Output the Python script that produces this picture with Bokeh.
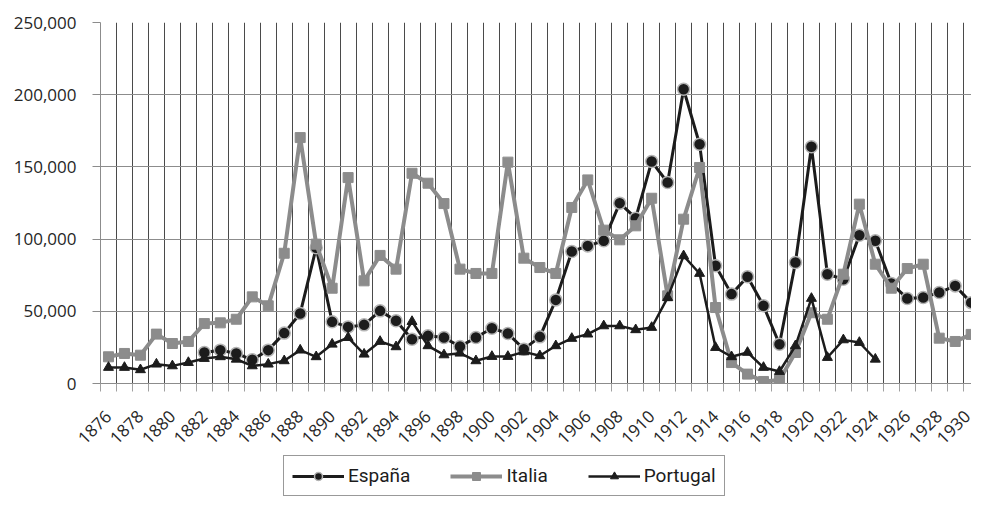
import math
from bokeh.plotting import figure
from bokeh.layouts import column
from bokeh.models import Range1d, FixedTicker, NumeralTickFormatter, Legend, LegendItem
from bokeh.embed import file_html
from bokeh.resources import INLINE

# ---------------- data ----------------
years = list(range(1876, 1931))
label_years = years[::2]

espana_years = list(range(1882, 1931))
espana = [21500, 23100, 20800, 16400, 23100, 34900, 48500, 94000, 42700, 39200,
          40600, 50300, 43400, 30700, 33000, 31800, 25600, 31800, 38300, 34600,
          23800, 32300, 57900, 91400, 95300, 98800, 124900, 114500, 153700, 139200,
          203800, 165700, 81500, 61900, 73900, 53800, 27200, 83800, 163900, 75700,
          72200, 102700, 98800, 69200, 58900, 59500, 63000, 67600, 56000]

italia_years = years
italia = [18500, 20800, 19600, 34200, 27700, 29100, 41500, 42000, 44500, 60000,
          53800, 90200, 170300, 96500, 66000, 142600, 71100, 88700, 79200, 145600,
          138700, 124600, 79200, 76200, 76200, 153300, 86800, 80300, 76200, 121900,
          141000, 106200, 99500, 109200, 128300, 60700, 113800, 149600, 52600, 14500,
          6500, 1400, 2500, 21500, 49000, 44500, 75700, 124200, 82600, 66000,
          79600, 82600, 31400, 29100, 34000]

portugal_years = list(range(1876, 1925))
portugal = [11100, 11100, 9500, 13400, 12200, 14500, 17300, 18500, 16800, 12200,
            13400, 15700, 23100, 18500, 27200, 31800, 20300, 29100, 25400, 42900,
            26100, 19800, 21000, 15700, 18700, 18700, 21900, 19200, 26100, 31200,
            34200, 39900, 39900, 37200, 38800, 59500, 88400, 76200, 24900, 18500,
            21500, 11100, 8300, 26100, 58900, 18000, 30200, 28400, 16800]

series_names = ["España", "Italia", "Portugal"]
y_ticks = [0, 50000, 100000, 150000, 200000, 250000]

# ---------------- styles ----------------
DARK = "#1c1c1c"
GREY = "#8c8c8c"
styles = {
    "España": dict(line=dict(line_color=DARK, line_width=3),
                   mark=dict(marker="circle", size=12, fill_color=DARK,
                             line_color="#b4b4b4", line_width=1.5)),
    "Italia": dict(line=dict(line_color=GREY, line_width=4),
                   mark=dict(marker="square", size=10, fill_color=GREY, line_color=GREY)),
    "Portugal": dict(line=dict(line_color=DARK, line_width=2.5),
                     mark=dict(marker="triangle", size=10, fill_color=DARK, line_color=DARK)),
}

# ---------------- main figure ----------------
p = figure(width=971, height=452, output_backend="svg", toolbar_location=None,
           x_range=Range1d(1875.5, 1930.02), y_range=Range1d(0, 250000),
           min_border_left=100, min_border_top=22, min_border_bottom=69,
           min_border_right=0)
p.outline_line_color = None
p.background_fill_color = "white"

boundaries = [y - 0.5 for y in years]

p.xaxis.ticker = FixedTicker(ticks=label_years, minor_ticks=boundaries)
p.xaxis.major_tick_line_color = None
p.xaxis.major_tick_out = 0
p.xaxis.major_tick_in = 0
p.xaxis.minor_tick_out = 8
p.xaxis.minor_tick_in = 0
p.xaxis.minor_tick_line_color = "#a0a0a0"
p.xaxis.major_label_orientation = math.pi / 4
p.xaxis.major_label_standoff = 22
p.xaxis.axis_line_color = GREY

p.yaxis.ticker = FixedTicker(ticks=y_ticks)
p.yaxis.formatter = NumeralTickFormatter(format="0,0")
p.yaxis.major_tick_out = 8
p.yaxis.major_tick_in = 0
p.yaxis.major_tick_line_color = GREY
p.yaxis.minor_tick_line_color = None
p.yaxis.axis_line_color = GREY
p.yaxis.major_label_standoff = 16

for ax in (p.xaxis, p.yaxis):
    ax.major_label_text_font = "Open Sans"
    ax.major_label_text_font_size = "17px"
    ax.major_label_text_color = "#262626"

p.xgrid.ticker = FixedTicker(ticks=boundaries)
p.xgrid.grid_line_color = "#4a4a4a"
p.xgrid.grid_line_width = 1
p.ygrid.grid_line_color = GREY
p.ygrid.grid_line_width = 1

series = [(series_names[0], espana_years, espana),
          (series_names[1], italia_years, italia),
          (series_names[2], portugal_years, portugal)]
for name, xs, ys in series:
    p.line(xs, ys, **styles[name]["line"])
    p.scatter(xs, ys, **styles[name]["mark"])

# ---------------- legend strip (same series, ranges chosen so only the legend shows) ----------------
lg = figure(width=971, height=46, output_backend="svg", toolbar_location=None,
            x_range=Range1d(0, 1), y_range=Range1d(0, 1),
            x_axis_type=None, y_axis_type=None,
            min_border_left=0, min_border_right=0, min_border_top=0, min_border_bottom=0)
lg.outline_line_color = None
lg.grid.visible = False

items = []
for name, xs, ys in series:
    rl = lg.line(xs, ys, **styles[name]["line"])
    rm = lg.scatter(xs, ys, **styles[name]["mark"])
    items.append(LegendItem(label=name, renderers=[rl, rm]))

legend = Legend(items=items, orientation="horizontal", location=(183, 2),
                glyph_width=52, glyph_height=20, label_standoff=4, spacing=40,
                padding=8, margin=0,
                border_line_color="#333333", border_line_width=1.5,
                background_fill_color="white", background_fill_alpha=1,
                label_text_font="Roboto", label_text_font_size="19px",
                label_text_color="#1c1c1c")
lg.add_layout(legend)

layout = column(p, lg, spacing=0)
open("out.html", "w").write(file_html(layout, INLINE))
